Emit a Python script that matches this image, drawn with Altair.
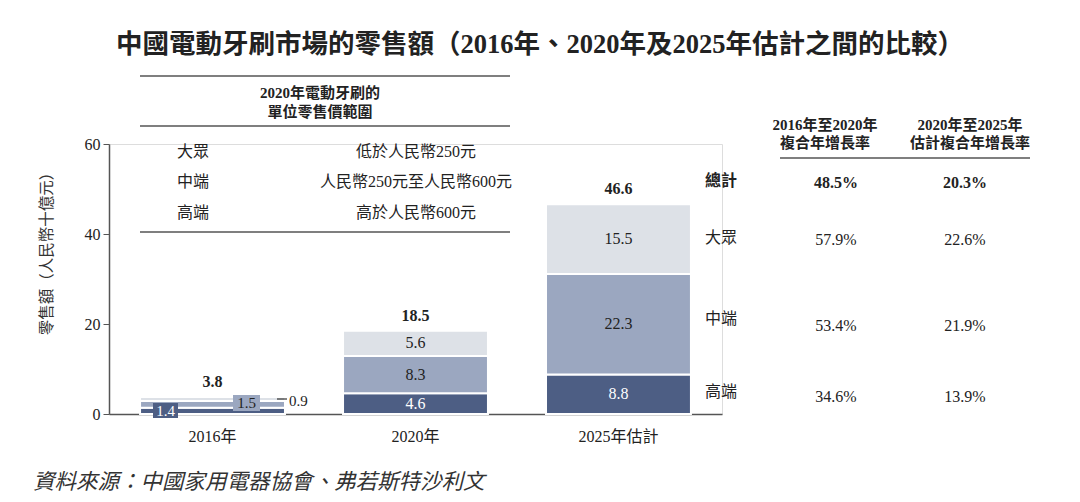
import altair as alt
import pandas as pd

# ---------------- data ----------------
years = ["2016年", "2020年", "2025年估計"]
segments = ["高端", "中端", "大眾"]
high_end = [1.4, 4.6, 8.8]
mid_end = [1.5, 8.3, 22.3]
mass = [0.9, 5.6, 15.5]
totals = [3.8, 18.5, 46.6]

legend_rows = ["大眾", "中端", "高端"]
legend_ranges = ["低於人民幣250元", "人民幣250元至人民幣600元", "高於人民幣600元"]

cagr_rows = ["總計", "大眾", "中端", "高端"]
cagr_16_20 = ["48.5%", "57.9%", "53.4%", "34.6%"]
cagr_20_25 = ["20.3%", "22.6%", "21.9%", "13.9%"]

colors = ["#4d5e84", "#9ba7c0", "#dde1e7"]

FONT = "Liberation Serif, Noto Sans CJK TC"
INK = "#222222"
LINE = "#555555"

rows = []
for i, y in enumerate(years):
    for j, (s, vals) in enumerate(zip(segments, [high_end, mid_end, mass])):
        rows.append({"year": y, "seg": s, "value": vals[i], "order": j})
df = pd.DataFrame(rows)
tot_df = pd.DataFrame({"year": years, "total": totals})

xscale = alt.Scale(domain=years, paddingInner=0.286, paddingOuter=0.153)
yscale = alt.Scale(domain=[0, 60], nice=False)

bars = alt.Chart(df).mark_bar(stroke="white", strokeWidth=2).encode(
    x=alt.X("year:N", scale=xscale, sort=years,
            axis=alt.Axis(title=None, labelAngle=0, ticks=False, domainColor=LINE,
                          domainWidth=1.5, labelFont=FONT, labelFontSize=16,
                          labelColor=INK, labelPadding=14)),
    y=alt.Y("value:Q", scale=yscale, stack="zero",
            axis=alt.Axis(title=None, values=[0, 20, 40, 60], grid=False,
                          domainColor=LINE, domainWidth=1.5, tickColor=LINE,
                          tickSize=6, labelFont=FONT, labelFontSize=16,
                          labelColor=INK, labelPadding=3)),
    color=alt.Color("seg:N", scale=alt.Scale(domain=segments, range=colors), legend=None),
    order=alt.Order("order:Q", sort="ascending"),
)

seg_labels = alt.Chart(df).transform_filter(
    alt.datum.year != years[0]
).transform_stack(
    stack="value", groupby=["year"], sort=[alt.SortField("order")], as_=["v0", "v1"]
).transform_calculate(
    mid="(datum.v0 + datum.v1) / 2"
).mark_text(font=FONT, fontSize=16, baseline="middle").encode(
    x=alt.X("year:N", scale=xscale, sort=years),
    y=alt.Y("mid:Q", scale=yscale),
    text=alt.Text("value:Q", format=".1f"),
    color=alt.condition(alt.datum.seg == "高端", alt.value("white"), alt.value(INK)),
)

tot_labels = alt.Chart(tot_df).mark_text(
    font=FONT, fontSize=16, fontWeight="bold", baseline="middle", dy=-15, color=INK
).encode(
    x=alt.X("year:N", scale=xscale, sort=years),
    y=alt.Y("total:Q", scale=yscale),
    text=alt.Text("total:Q", format=".1f"),
)

one = alt.Data(values=[{}])


def txt(t, x, y, size=16, weight="normal", align="center", color=INK, style="normal",
        angle=0):
    return alt.Chart(one).mark_text(
        text=t, font=FONT, fontSize=size, fontWeight=weight, align=align,
        baseline="middle", color=color, fontStyle=style, angle=angle
    ).encode(x=alt.value(x), y=alt.value(y))


def hline(x1, x2, y, color=LINE, w=1.5):
    return alt.Chart(one).mark_rule(color=color, strokeWidth=w).encode(
        x=alt.value(x1), x2=alt.value(x2), y=alt.value(y))


def box(x1, x2, y1, y2, fill):
    return alt.Chart(one).mark_rect(color=fill).encode(
        x=alt.value(x1), x2=alt.value(x2), y=alt.value(y1), y2=alt.value(y2))


layers = [bars, seg_labels, tot_labels]

# 2016 special labels
layers += [
    box(44, 69, 259, 274, colors[0]),
    txt(f"{high_end[0]:.1f}", 56.5, 267, size=15, color="white"),
    box(124, 151, 251, 267, colors[1]),
    txt(f"{mid_end[0]:.1f}", 137.5, 259, size=15),
    hline(168, 178, 255, color="#333333", w=1.2),
    txt(f"{mass[0]:.1f}", 180, 257, size=15, align="left"),
]

# title, footnote, axis title
layers += [
    txt("中國電動牙刷市場的零售額（2016年、2020年及2025年估計之間的比較）", 431, -99,
        size=26.5, weight="bold"),
    txt("資料來源：中國家用電器協會、弗若斯特沙利文", -76, 339, size=21.5, align="left",
        style="italic", color="#333333"),
    txt("零售額（人民幣十億元）", -62, 106, size=15.5, angle=270, color="#333333"),
]

# price-range legend table
layers += [
    hline(31, 401, -68), hline(31, 401, -18), hline(31, 401, 88),
    txt("2020年電動牙刷的", 211, -51, size=15, weight="bold"),
    txt("單位零售價範圍", 211, -32, size=15, weight="bold"),
]
for k, (r, p) in enumerate(zip(legend_rows, legend_ranges)):
    yy = [8, 38, 69][k]
    layers += [txt(r, 84, yy, size=16), txt(p, 307, yy, size=16)]

# CAGR table
layers += [
    txt("2016年至2020年", 716, -19, size=15, weight="bold"),
    txt("複合年增長率", 716, -1, size=15, weight="bold"),
    txt("2020年至2025年", 861, -19, size=15, weight="bold"),
    txt("估計複合年增長率", 861, -1, size=15, weight="bold"),
    hline(671, 921, 14),
]
row_label_y = [37, 94, 175, 248]
row_value_y = [39, 96, 182, 253]
for k, r in enumerate(cagr_rows):
    w = "bold" if k == 0 else "normal"
    layers += [
        txt(r, 596, row_label_y[k], size=16, weight=w, align="left"),
        txt(cagr_16_20[k], 727, row_value_y[k], size=16, weight=w),
        txt(cagr_20_25[k], 856, row_value_y[k], size=16, weight=w),
    ]

chart = alt.layer(*layers).properties(
    width=613, height=270,
    padding={"left": 101, "top": 136, "right": 350, "bottom": 80},
    autosize=alt.AutoSizeParams(type="none"),
).configure_view(stroke=None).configure(background="white")

chart.save("out.html", embed_options={"renderer": "svg", "actions": False})
